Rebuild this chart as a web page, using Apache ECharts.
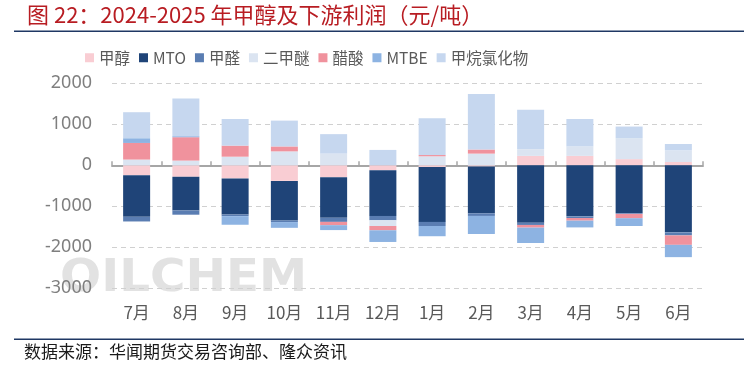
<!DOCTYPE html>
<html>
<head>
<meta charset="utf-8">
<script src="https://cdn.jsdelivr.net/npm/echarts@6/dist/echarts.min.js"></script>
<style>
html,body{margin:0;padding:0;background:#fff;}
#c{width:744px;height:365px;}
</style>
</head>
<body>
<div id="c"></div>
<script>
var categories = ['7月','8月','9月','10月','11月','12月','1月','2月','3月','4月','5月','6月'];
var methanol   = [-240, -280, -320, -380, -290, -120, -40, -30, 230, 230, 150, 80];
var mto        = [-1015, -820, -880, -965, -990, -1115, -1340, -1140, -1400, -1245, -1165, -1635];
var formaldehyde = [-115, -105, -40, -40, -100, -105, -100, -65, -55, -40, -20, -75];
var dme        = [140, 115, 210, 340, 285, -140, 220, 285, 165, 230, 510, 285];
var aceticAcid = [405, 570, 270, 120, -80, -105, 30, 100, -65, -65, -105, -230];
var mtbe       = [115, 25, -210, -140, -120, -285, -250, -440, -375, -165, -190, -300];
var chloromethane = [635, 920, 650, 630, 475, 375, 895, 1355, 960, 670, 285, 155];
var yTicks = [-3000, -2000, -1000, 0, 1000, 2000];

var seriesDefs = [
  ['甲醇', methanol, '#f9cdd3'],
  ['MTO', mto, '#1f4478'],
  ['甲醛', formaldehyde, '#5a7db2'],
  ['二甲醚', dme, '#dbe4f1'],
  ['醋酸', aceticAcid, '#f0929d'],
  ['MTBE', mtbe, '#8db3e2'],
  ['甲烷氯化物', chloromethane, '#c6d7ef']
];

var chart = echarts.init(document.getElementById('c'), null, {renderer: 'canvas'});
var font = "'Noto Sans CJK SC', 'Noto Sans', sans-serif";

var option = {
  animation: false,
  backgroundColor: '#fff',
  textStyle: {fontFamily: font},
  legend: {
    left: 80, top: 45,
    itemWidth: 9, itemHeight: 9, itemGap: 9,
    icon: 'rect',
    textStyle: {fontSize: 15.5, color: '#595959', fontFamily: font},
    data: seriesDefs.map(function(s){return s[0];})
  },
  grid: {left: 112, right: 41, top: 83.3, bottom: 76.7, containLabel: false},
  xAxis: [
    {
      type: 'category', data: categories, position: 'bottom',
      axisLine: {show: false, onZero: false},
      axisTick: {show: false},
      axisLabel: {fontSize: 17, color: '#595959', margin: 16, fontFamily: font}
    },
    {
      type: 'category', data: categories, position: 'bottom',
      axisLine: {show: true, onZero: true, lineStyle: {color: '#a6a6a6', width: 2}},
      axisTick: {show: true, inside: true, length: 4, lineStyle: {color: '#a6a6a6', width: 1.5}},
      axisLabel: {show: false},
      splitLine: {show: false}
    }
  ],
  yAxis: {
    type: 'value', min: yTicks[0], max: yTicks[yTicks.length - 1], interval: 1000,
    axisLine: {show: false}, axisTick: {show: false},
    axisLabel: {fontSize: 18, color: '#7f7f7f', margin: 20, fontFamily: "'Noto Sans', sans-serif",
      formatter: function(v){ return String(v); }},
    splitLine: {show: true, lineStyle: {color: '#d0d0d0', type: [5, 4], width: 1}}
  },
  series: seriesDefs.map(function(s){
    return {
      name: s[0], type: 'bar', stack: 'total', data: s[1],
      xAxisIndex: 0, barWidth: 27,
      itemStyle: {color: s[2]}
    };
  }),
  graphic: [
    {type: 'text', left: 27, top: 4, z: 10,
     style: {text: '图 22：2024-2025 年甲醇及下游利润（元/吨）', fill: '#b81c22', font: "22px 'Noto Sans CJK SC', sans-serif"}},
    {type: 'rect', shape: {x: 14, y: 30.5, width: 730, height: 1.6}, style: {fill: '#1f3864'}, z: 10},
    {type: 'rect', shape: {x: 14, y: 338.5, width: 730, height: 1.6}, style: {fill: '#1f3864'}, z: 10},
    {type: 'text', left: 24, top: 343, z: 10,
     style: {text: '数据来源：华闻期货交易咨询部、隆众资讯', fill: '#1a1a1a', font: "17px 'Noto Sans CJK SC', sans-serif"}},
    {type: 'text', x: 60, y: 258, scaleX: 1.1, z: -1, silent: true,
     style: {text: 'OILCHEM', fill: '#e2e2e2', font: "bold 44px 'DejaVu Sans', sans-serif"}}
  ]
};
chart.setOption(option);
</script>
</body>
</html>
